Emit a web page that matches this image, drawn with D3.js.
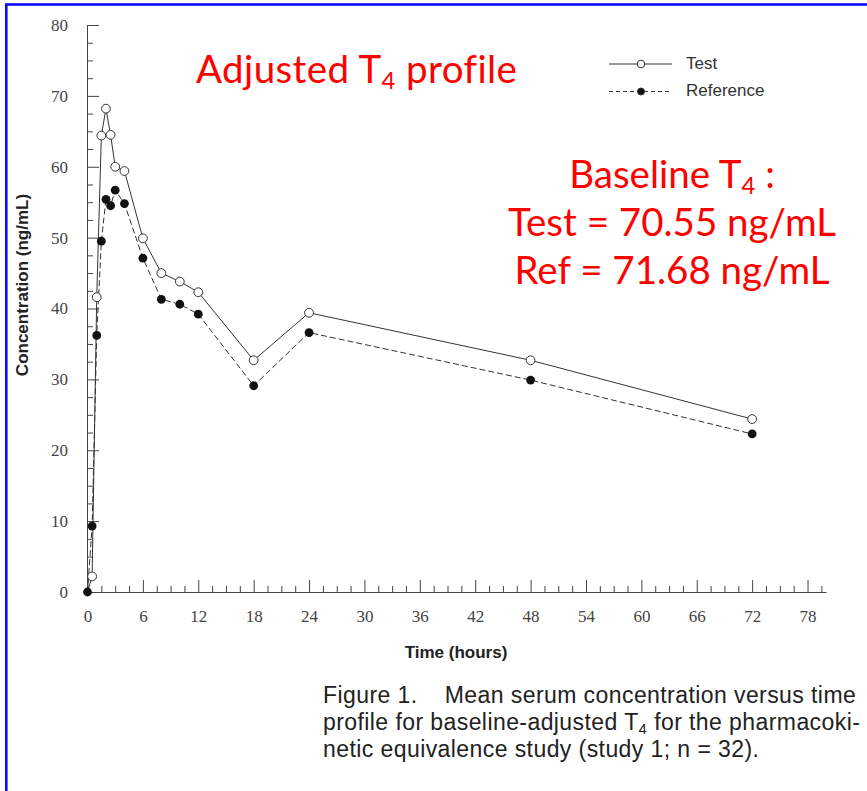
<!DOCTYPE html>
<html>
<head>
<meta charset="utf-8">
<script src="https://cdn.jsdelivr.net/npm/d3@7"></script>
<style>
  body { margin: 0; background: #fff; }
  svg { display: block; }
</style>
</head>
<body>
<div id="chart"></div>
<script>
// sampling times (hours)
const times = [0, 0.5, 1, 1.5, 2, 2.5, 3, 4, 6, 8, 10, 12, 18, 24, 48, 72];
// mean concentrations (ng/mL)
const testConc = [0, 2.2, 41.6, 64.4, 68.2, 64.5, 60.0, 59.4, 49.9, 45.0, 43.8, 42.3, 32.7, 39.4, 32.7, 24.4];
const refConc = [0, 9.3, 36.2, 49.5, 55.4, 54.5, 56.7, 54.8, 47.1, 41.3, 40.6, 39.2, 29.1, 36.6, 29.9, 22.3];

const xTicks = [0, 6, 12, 18, 24, 30, 36, 42, 48, 54, 60, 66, 72, 78];
const yTicks = [0, 10, 20, 30, 40, 50, 60, 70, 80];

const seriesNames = ["Test", "Reference"];
const captionLines = [
  "Figure 1.    Mean serum concentration versus time",
  "profile for baseline-adjusted T|4| for the pharmacoki-",
  "netic equivalence study (study 1; n = 32)."
];

const W = 867, H = 791;
const axisColor = "#444";
const serif = "Liberation Serif, serif";
const sans = "Liberation Sans, Arial, sans-serif";

const svg = d3.select("#chart").append("svg")
  .attr("width", W)
  .attr("height", H);

// blue frame (only top and left edges show)
svg.append("rect")
  .attr("x", 6.3).attr("y", 4.5)
  .attr("width", 1000).attr("height", 1000)
  .attr("fill", "none")
  .attr("stroke", "#0a0aff")
  .attr("stroke-width", 2.6);

const x = d3.scaleLinear().domain([0, 80]).range([87.5, 826]);
const y = d3.scaleLinear().domain([0, 80]).range([592, 25]);

// minor ticks x
const xMinor = d3.range(0, 80.1, 1.5).filter(v => v % 6 !== 0);
svg.append("g")
  .attr("transform", `translate(0,${y(0)})`)
  .call(d3.axisBottom(x).tickValues(xMinor).tickFormat("").tickSizeInner(-6).tickSizeOuter(0))
  .call(g => g.select(".domain").remove())
  .call(g => g.selectAll("line").attr("stroke", axisColor));

// major x axis
const xAxis = svg.append("g")
  .attr("transform", `translate(0,${y(0)})`)
  .call(d3.axisBottom(x).tickValues(xTicks).tickSizeInner(-12).tickSizeOuter(0).tickPadding(18));
xAxis.select(".domain").attr("stroke", axisColor);
xAxis.selectAll("line").attr("stroke", axisColor);
xAxis.selectAll("text")
  .attr("fill", "#444")
  .attr("font-family", serif)
  .attr("font-size", 17);

// minor ticks y
const yMinor = d3.range(0, 80.1, 2.5).filter(v => v % 10 !== 0);
svg.append("g")
  .attr("transform", `translate(${x(0) - 0.5},0)`)
  .call(d3.axisLeft(y).tickValues(yMinor).tickFormat("").tickSizeInner(-6).tickSizeOuter(0))
  .call(g => g.select(".domain").remove())
  .call(g => g.selectAll("line").attr("stroke", axisColor));

// major y axis
const yAxis = svg.append("g")
  .attr("transform", `translate(${x(0) - 0.5},0)`)
  .call(d3.axisLeft(y).tickValues(yTicks).tickSizeInner(-12).tickSizeOuter(0).tickPadding(19));
yAxis.select(".domain").attr("stroke", axisColor);
yAxis.selectAll("line").attr("stroke", axisColor);
yAxis.selectAll("text")
  .attr("fill", "#444")
  .attr("font-family", serif)
  .attr("font-size", 17);

// axis titles
svg.append("text")
  .attr("transform", "translate(28,285) rotate(-90)")
  .attr("text-anchor", "middle")
  .attr("font-family", sans)
  .attr("font-weight", "bold")
  .attr("font-size", 17)
  .attr("fill", "#222")
  .text("Concentration (ng/mL)");

svg.append("text")
  .attr("x", 456).attr("y", 658)
  .attr("text-anchor", "middle")
  .attr("font-family", sans)
  .attr("font-weight", "bold")
  .attr("font-size", 17)
  .attr("fill", "#222")
  .text("Time (hours)");

// lines
const testData = times.map((t, i) => [t, testConc[i]]);
const refData = times.map((t, i) => [t, refConc[i]]);
const line = d3.line().x(d => x(d[0])).y(d => y(d[1]));

svg.append("path").datum(refData)
  .attr("fill", "none").attr("stroke", "#333").attr("stroke-width", 1)
  .attr("stroke-dasharray", "6,3")
  .attr("d", line);
svg.append("path").datum(testData)
  .attr("fill", "none").attr("stroke", "#333").attr("stroke-width", 1)
  .attr("d", line);

svg.selectAll(".ref").data(refData).join("circle")
  .attr("class", "ref")
  .attr("cx", d => x(d[0])).attr("cy", d => y(d[1]))
  .attr("r", 4.4).attr("fill", "#111");
svg.selectAll(".test").data(testData.filter(d => d[0] > 0)).join("circle")
  .attr("class", "test")
  .attr("cx", d => x(d[0])).attr("cy", d => y(d[1]))
  .attr("r", 4.4).attr("fill", "#fff").attr("stroke", "#333").attr("stroke-width", 1);

// legend
const legend = svg.append("g").attr("transform", "translate(609,64)");
seriesNames.forEach((name, i) => {
  const row = legend.append("g").attr("transform", `translate(0,${i * 27.5})`);
  row.append("line")
    .attr("x1", 0).attr("x2", 63).attr("y1", 0).attr("y2", 0)
    .attr("stroke", "#333").attr("stroke-width", 1)
    .attr("stroke-dasharray", i === 1 ? "4,3" : null);
  row.append("circle")
    .attr("cx", 32).attr("cy", 0).attr("r", i === 1 ? 3.5 : 3.8)
    .attr("fill", i === 1 ? "#111" : "#fff")
    .attr("stroke", "#333");
  row.append("text")
    .attr("x", 77).attr("y", -1).attr("dy", "0.35em")
    .attr("font-family", sans)
    .attr("font-size", 17)
    .attr("fill", "#333")
    .text(name);
});

// red annotations
function subText(sel, before, sub, after) {
  sel.append("tspan").text(before);
  sel.append("tspan").attr("font-size", "0.62em").attr("dy", "0.25em").text(sub);
  sel.append("tspan").attr("dy", "-0.16em").text(after);
}
const redFont = "Lato, Noto Sans, sans-serif";
const redSize = 38.5;
const t1 = svg.append("text")
  .attr("x", 196).attr("y", 83)
  .attr("font-family", redFont).attr("font-size", redSize).attr("fill", "#ff0000")
  .attr("letter-spacing", 0.4);
subText(t1, "Adjusted T", "4", " profile");

const t2 = svg.append("text")
  .attr("x", 672).attr("y", 188).attr("text-anchor", "middle")
  .attr("font-family", redFont).attr("font-size", redSize).attr("fill", "#ff0000");
subText(t2, "Baseline T", "4", " :");

svg.append("text")
  .attr("x", 672).attr("y", 236).attr("text-anchor", "middle")
  .attr("font-family", redFont).attr("font-size", redSize).attr("fill", "#ff0000")
  .text("Test = 70.55 ng/mL");
svg.append("text")
  .attr("x", 672).attr("y", 284).attr("text-anchor", "middle")
  .attr("font-family", redFont).attr("font-size", redSize).attr("fill", "#ff0000")
  .text("Ref = 71.68 ng/mL");

// caption
captionLines.forEach((ln, i) => {
  const t = svg.append("text")
    .attr("x", 323).attr("y", 702.5 + i * 27)
    .attr("font-family", sans)
    .attr("font-size", 23)
    .attr("letter-spacing", 0.42)
    .attr("fill", "#222")
    .style("white-space", "pre");
  const parts = ln.split("|");
  if (parts.length === 3) {
    t.append("tspan").text(parts[0]);
    t.append("tspan").attr("font-size", "0.65em").attr("baseline-shift", "-4").text(parts[1]);
    t.append("tspan").text(parts[2]);
  } else {
    t.text(ln);
  }
});
</script>
</body>
</html>
